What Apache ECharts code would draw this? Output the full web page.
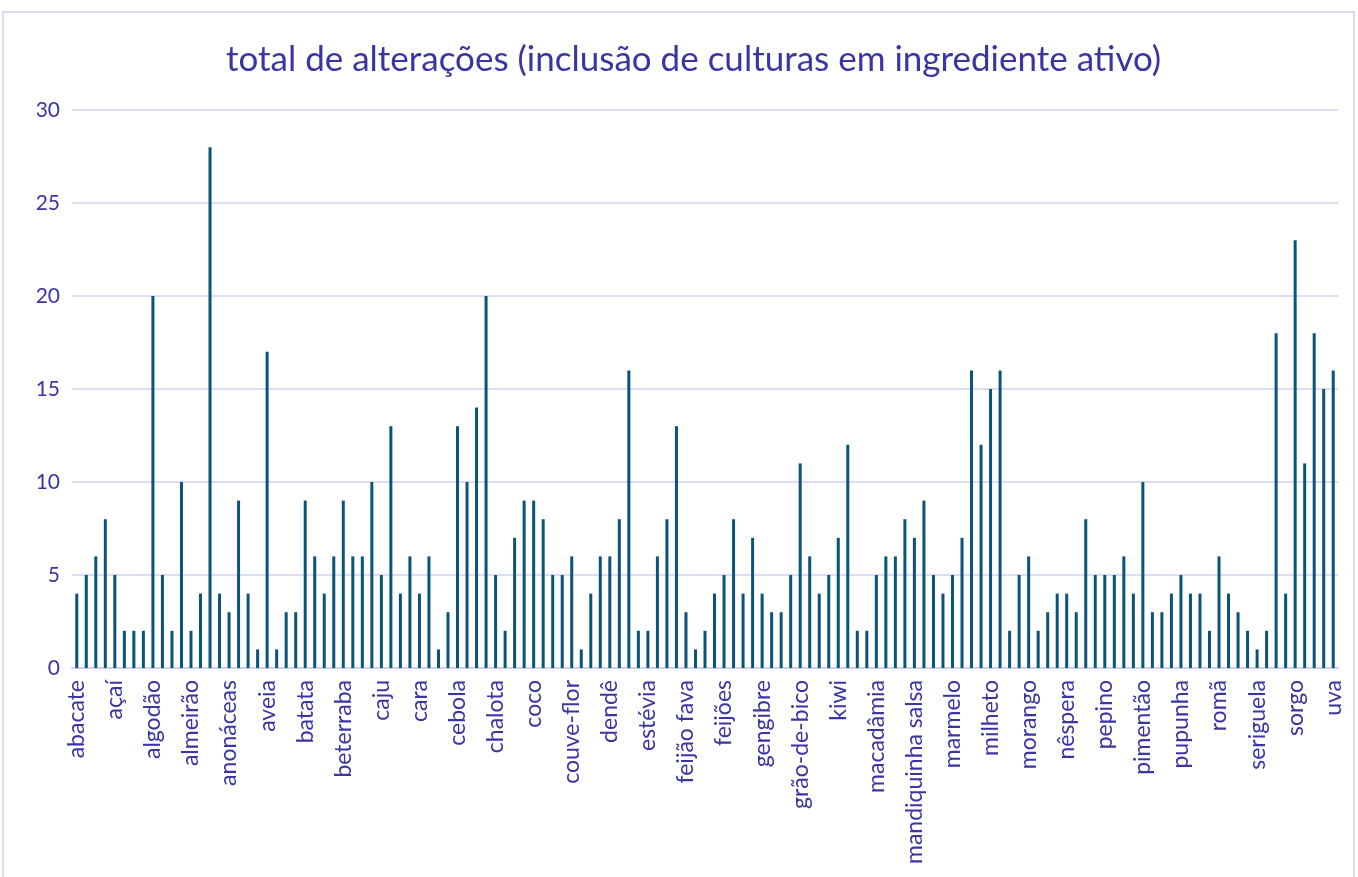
<!DOCTYPE html>
<html>
<head>
<meta charset="utf-8">
<script src="https://cdn.jsdelivr.net/npm/echarts@6/dist/echarts.min.js"></script>
<style>
  html, body { margin: 0; padding: 0; background: #fff; }
  #chart { width: 1358px; height: 877px; }
</style>
</head>
<body>
<div id="chart"></div>
<script>
// culturas: 133 bars, only every 4th name is printed on the axis.
// the names in between are NOT visible there and are guessed placeholders.
const culturas = [
  'abacate', 'abacaxi', 'abóbora', 'abobrinha',
  'açaí', 'acelga', 'agrião', 'alface',
  'algodão', 'alho', 'alho-poró', 'alfafa',
  'almeirão', 'amaranto', 'ameixa', 'amendoim',
  'anonáceas', 'arroz', 'aspargo', 'atemoia',
  'aveia', 'avelã', 'azevém', 'banana',
  'batata', 'batata-doce', 'berinjela', 'bertalha',
  'beterraba', 'brócolis', 'cacau', 'café',
  'caju', 'cana-de-açúcar', 'canola', 'caqui',
  'cara', 'carambola', 'cártamo', 'cenoura',
  'cebola', 'cebolinha', 'centeio', 'cevada',
  'chalota', 'chicória', 'chuchu', 'citros',
  'coco', 'coentro', 'couve', 'couve-chinesa',
  'couve-flor', 'crisântemo', 'cupuaçu', 'damasco',
  'dendê', 'ervilha', 'erva-mate', 'espinafre',
  'estévia', 'eucalipto', 'feijão', 'feijão-caupi',
  'feijão fava', 'feijão-vagem', 'feijão-mungo', 'feijão-de-corda',
  'feijões', 'figo', 'framboesa', 'fumo',
  'gengibre', 'gergelim', 'girassol', 'goiaba',
  'grão-de-bico', 'graviola', 'guaraná', 'inhame',
  'kiwi', 'laranja', 'lentilha', 'lichia',
  'macadâmia', 'maçã', 'mamão', 'mamona',
  'mandiquinha salsa', 'mandioca', 'manga', 'maracujá',
  'marmelo', 'melancia', 'melão', 'menta',
  'milheto', 'milho', 'mirtilo', 'mostarda',
  'morango', 'nabo', 'nabiça', 'nectarina',
  'nêspera', 'noz-pecã', 'palmito', 'pastagens',
  'pepino', 'pera', 'pêssego', 'pimenta',
  'pimentão', 'pinhão-manso', 'pitaia', 'pistache',
  'pupunha', 'quiabo', 'rabanete', 'repolho',
  'romã', 'rúcula', 'salsa', 'seringueira',
  'seriguela', 'sisal', 'soja', 'sorgo sacarino',
  'sorgo', 'tomate', 'trigo', 'triticale',
  'uva'
];

const totalAlteracoes = [
  4, 5, 6, 8, 5, 2, 2, 2, 20, 5, 2, 10, 2, 4, 28, 4, 3, 9, 4, 1, 17, 1,
  3, 3, 9, 6, 4, 6, 9, 6, 6, 10, 5, 13, 4, 6, 4, 6, 1, 3, 13, 10, 14, 20,
  5, 2, 7, 9, 9, 8, 5, 5, 6, 1, 4, 6, 6, 8, 16, 2, 2, 6, 8, 13, 3, 1,
  2, 4, 5, 8, 4, 7, 4, 3, 3, 5, 11, 6, 4, 5, 7, 12, 2, 2, 5, 6, 6, 8,
  7, 9, 5, 4, 5, 7, 16, 12, 15, 16, 2, 5, 6, 2, 3, 4, 4, 3, 8, 5, 5, 5,
  6, 4, 10, 3, 3, 4, 5, 4, 4, 2, 6, 4, 3, 2, 1, 2, 18, 4, 23, 11, 18, 15, 16
];

const yTicks = [0, 5, 10, 15, 20, 25, 30];

const txt = '#3b35a3';
const gridCol = '#d3d0f0';

const myChart = echarts.init(document.getElementById('chart'));

myChart.setOption({
  animation: false,
  textStyle: { fontFamily: 'Lato' },
  graphic: [
    {
      type: 'rect',
      silent: true,
      shape: { x: 3, y: 12, width: 1351, height: 900 },
      style: { fill: 'none', stroke: gridCol, lineWidth: 1.5 }
    }
  ],
  title: {
    text: 'total de alterações (inclusão de culturas em ingrediente ativo)',
    left: 221,
    top: 37,
    textStyle: { color: txt, fontSize: 35, fontWeight: 'normal', fontFamily: 'Lato' }
  },
  grid: {
    left: 72,
    right: 20,
    top: 110,
    bottom: 209
  },
  xAxis: {
    type: 'category',
    data: culturas,
    axisTick: { show: false },
    axisLine: { lineStyle: { color: gridCol, width: 2 } },
    axisLabel: {
      interval: 3,
      rotate: 90,
      color: txt,
      fontSize: 23,
      margin: 12
    }
  },
  yAxis: {
    type: 'value',
    min: yTicks[0],
    max: yTicks[yTicks.length - 1],
    interval: 5,
    axisLine: { show: false },
    axisTick: { show: false },
    splitLine: { lineStyle: { color: gridCol, width: 1.5 } },
    axisLabel: { color: txt, fontSize: 21, margin: 12 }
  },
  series: [
    {
      type: 'bar',
      name: 'total de alterações',
      barWidth: 3,
      itemStyle: { color: '#0b5479' },
      data: totalAlteracoes
    }
  ]
});
</script>
</body>
</html>
